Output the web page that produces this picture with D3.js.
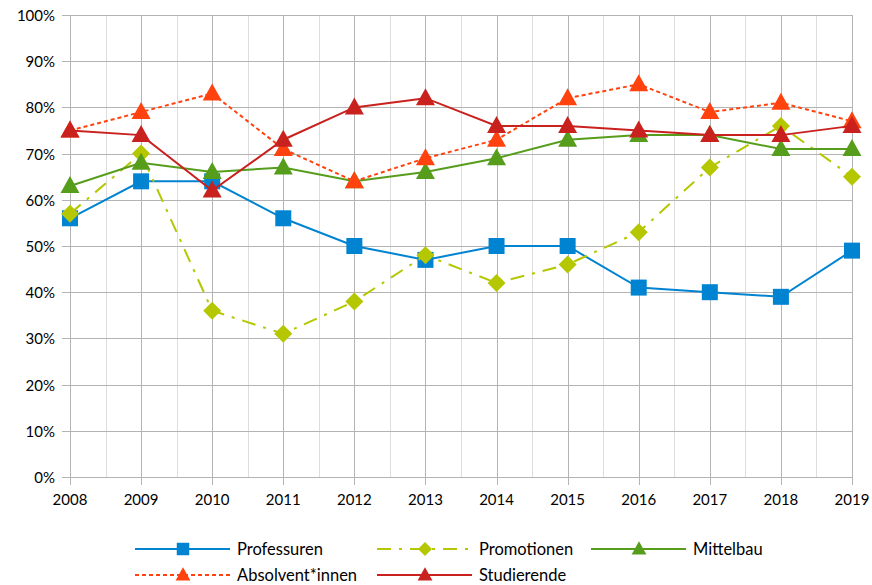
<!DOCTYPE html>
<html>
<head>
<meta charset="utf-8">
<script src="https://cdn.jsdelivr.net/npm/d3@7"></script>
<style>
  body { margin: 0; background: #fff; }
  svg text { font-family: Lato, "Liberation Sans", sans-serif; fill: #000; }
</style>
</head>
<body>
<svg id="chart" width="872" height="585"></svg>
<script>
const years = [2008, 2009, 2010, 2011, 2012, 2013, 2014, 2015, 2016, 2017, 2018, 2019];
const yTicks = [0, 10, 20, 30, 40, 50, 60, 70, 80, 90, 100];

const professuren = [56, 64, 64, 56, 50, 47, 50, 50, 41, 40, 39, 49];
const promotionen = [57, 70, 36, 31, 38, 48, 42, 46, 53, 67, 76, 65];
const mittelbau = [63, 68, 66, 67, 64, 66, 69, 73, 74, 74, 71, 71];
const absolventen = [75, 79, 83, 71, 64, 69, 73, 82, 85, 79, 81, 77];
const studierende = [75, 74, 62, 73, 80, 82, 76, 76, 75, 74, 74, 76];

// drawing order: last one on top
const series = [
  { name: "Professuren", values: professuren, color: "#0084d1", dash: null, marker: "square" },
  { name: "Promotionen", values: promotionen, color: "#b4c700", dash: "14,8,3,8", marker: "diamond" },
  { name: "Mittelbau", values: mittelbau, color: "#579d1c", dash: null, marker: "triangle" },
  { name: "Absolvent*innen", values: absolventen, color: "#ff420e", dash: "4,3", marker: "triangle" },
  { name: "Studierende", values: studierende, color: "#c9211e", dash: null, marker: "triangle" }
];

const svg = d3.select("#chart");
const plotLeft = 70, plotRight = 852, plotTop = 15, plotBottom = 477;

const x = d3.scaleLinear().domain([2008, 2019]).range([plotLeft, plotRight]);
const y = d3.scaleLinear().domain([0, 100]).range([plotBottom, plotTop]);

// minor vertical grid
const grid = svg.append("g");
grid.selectAll("line.minor")
  .data(years.slice(0, -1))
  .enter()
  .append("line")
  .attr("x1", d => Math.round(x(d + 0.5)) + 0.5)
  .attr("x2", d => Math.round(x(d + 0.5)) + 0.5)
  .attr("y1", plotTop)
  .attr("y2", plotBottom)
  .attr("stroke", "#dddddd")
  .attr("stroke-width", 1);

// major grid
grid.selectAll("line.hy")
  .data(yTicks)
  .enter()
  .append("line")
  .attr("x1", plotLeft - 8)
  .attr("x2", plotRight)
  .attr("y1", d => Math.round(y(d)) + 0.5)
  .attr("y2", d => Math.round(y(d)) + 0.5)
  .attr("stroke", "#b3b3b3")
  .attr("stroke-width", 1);

grid.selectAll("line.vx")
  .data(years)
  .enter()
  .append("line")
  .attr("x1", d => Math.round(x(d)) + 0.5)
  .attr("x2", d => Math.round(x(d)) + 0.5)
  .attr("y1", plotTop)
  .attr("y2", plotBottom + 8)
  .attr("stroke", "#b3b3b3")
  .attr("stroke-width", 1);

// axis labels
svg.append("g")
  .selectAll("text")
  .data(yTicks)
  .enter()
  .append("text")
  .attr("x", 55)
  .attr("y", d => y(d))
  .attr("text-anchor", "end")
  .attr("dominant-baseline", "central")
  .attr("font-size", "15px")
  .text(d => d + "%");

svg.append("g")
  .selectAll("text")
  .data(years)
  .enter()
  .append("text")
  .attr("x", d => x(d))
  .attr("y", 499)
  .attr("text-anchor", "middle")
  .attr("dominant-baseline", "central")
  .attr("font-size", "15px")
  .text(d => d);

function markerPath(type, cx, cy, k) {
  k = k || 1;
  if (type === "square") {
    return `M${cx - 8 * k},${cy - 8 * k}h${16 * k}v${16 * k}h${-16 * k}z`;
  } else if (type === "diamond") {
    return `M${cx},${cy - 9 * k}L${cx + 9 * k},${cy}L${cx},${cy + 9 * k}L${cx - 9 * k},${cy}z`;
  } else {
    return `M${cx},${cy - 10 * k}L${cx + 9.5 * k},${cy + 7 * k}L${cx - 9.5 * k},${cy + 7 * k}z`;
  }
}

const line = d3.line()
  .x((d, i) => x(years[i]))
  .y(d => y(d));

series.forEach(s => {
  const g = svg.append("g");
  g.append("path")
    .attr("d", line(s.values))
    .attr("fill", "none")
    .attr("stroke", s.color)
    .attr("stroke-width", 2)
    .attr("stroke-dasharray", s.dash);
  g.selectAll("path.mark")
    .data(s.values)
    .enter()
    .append("path")
    .attr("d", (d, i) => markerPath(s.marker, x(years[i]), y(d)))
    .attr("fill", s.color);
});

// legend
const legendPos = [
  { x: 135, y: 549 }, { x: 377, y: 549 }, { x: 591, y: 549 },
  { x: 135, y: 575 }, { x: 377, y: 575 }
];
series.forEach((s, i) => {
  const p = legendPos[i];
  const g = svg.append("g");
  g.append("line")
    .attr("x1", p.x)
    .attr("x2", p.x + 95)
    .attr("y1", p.y)
    .attr("y2", p.y)
    .attr("stroke", s.color)
    .attr("stroke-width", 2)
    .attr("stroke-dasharray", s.dash);
  g.append("path")
    .attr("d", markerPath(s.marker, p.x + 48, p.y, 0.78))
    .attr("fill", s.color);
  g.append("text")
    .attr("x", p.x + 102)
    .attr("y", p.y)
    .attr("dominant-baseline", "central")
    .attr("font-size", "16.5px")
    .text(s.name);
});
</script>
</body>
</html>
